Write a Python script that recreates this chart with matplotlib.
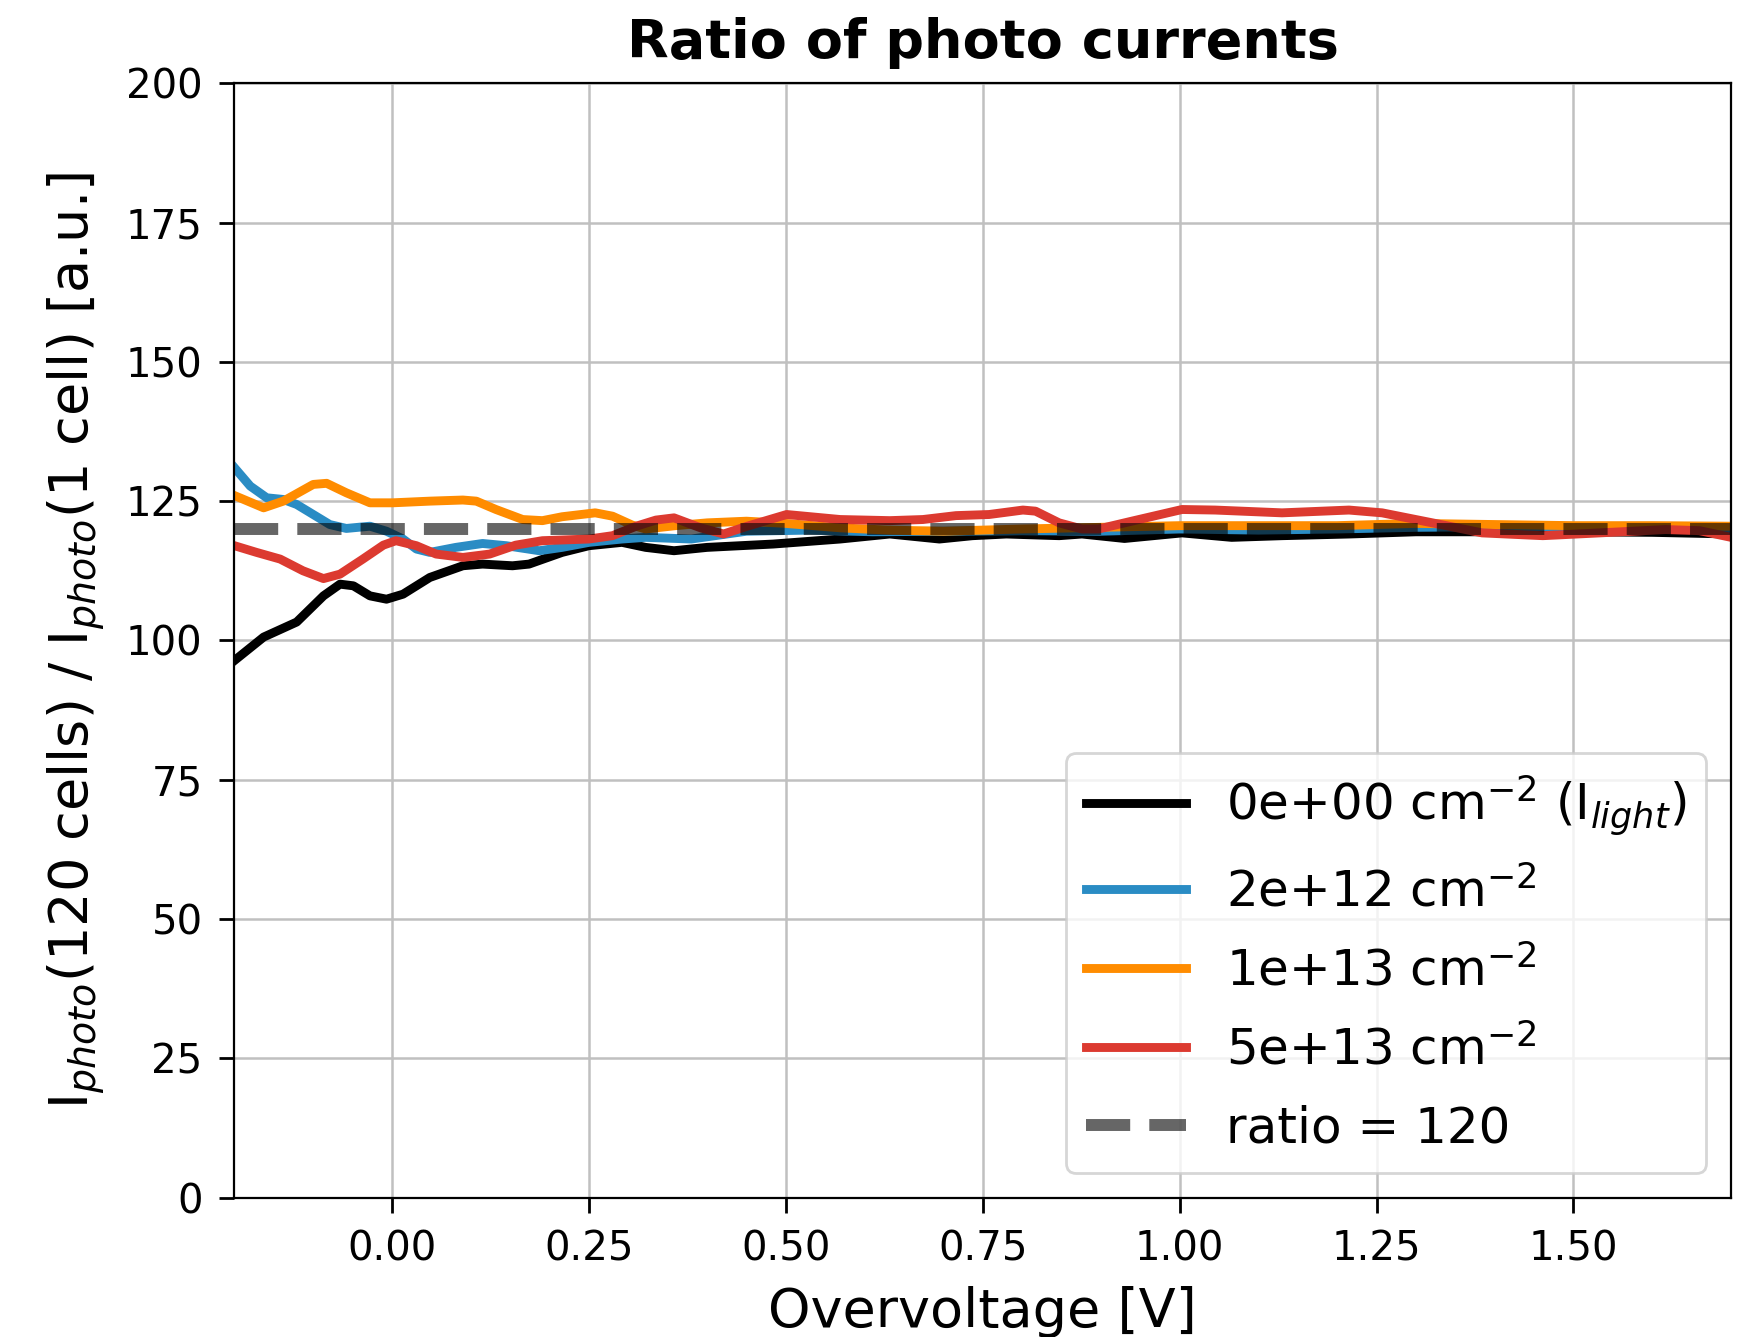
import matplotlib
matplotlib.use("Agg")
import matplotlib.pyplot as plt

# overvoltage [V] / current ratio for each fluence
v_0 = [-0.20, -0.163, -0.121, -0.087, -0.066, -0.049, -0.028, -0.007, 0.014, 0.048,
       0.090, 0.115, 0.153, 0.174, 0.216, 0.25, 0.292, 0.322, 0.358, 0.40, 0.484,
       0.569, 0.632, 0.695, 0.737, 0.78, 0.847, 0.876, 0.93, 1.003, 1.066, 1.13,
       1.215, 1.30, 1.40, 1.50, 1.60, 1.70]
r_0 = [96.4, 100.6, 103.3, 108.0, 110.1, 109.8, 108.0, 107.4, 108.3, 111.3,
       113.4, 113.7, 113.4, 113.7, 115.8, 117.0, 117.6, 116.7, 116.1, 116.7, 117.3,
       118.2, 119.1, 118.2, 118.8, 119.1, 118.8, 119.1, 118.3, 119.3, 118.5, 118.8,
       119.1, 119.5, 119.5, 119.5, 119.4, 119.1]

v_2e12 = [-0.20, -0.180, -0.159, -0.138, -0.121, -0.100, -0.079, -0.058, -0.028, -0.007,
          0.014, 0.031, 0.048, 0.081, 0.115, 0.145, 0.187, 0.216, 0.25, 0.292, 0.322,
          0.38, 0.45, 0.53, 0.61, 0.70, 0.80, 0.90, 1.00, 1.10, 1.20, 1.30, 1.40,
          1.50, 1.60, 1.70]
r_2e12 = [131.0, 127.7, 125.6, 125.3, 124.4, 122.6, 120.8, 120.1, 120.5, 119.6,
          118.2, 116.4, 115.8, 116.7, 117.4, 117.0, 116.1, 116.7, 117.6, 118.2, 118.5,
          118.2, 119.6, 119.8, 119.5, 119.6, 119.7, 119.6, 120.0, 119.8, 120.0, 120.3,
          120.4, 120.4, 120.2, 120.0]

v_1e13 = [-0.20, -0.163, -0.138, -0.100, -0.083, -0.058, -0.028, 0.001, 0.048, 0.090,
          0.107, 0.132, 0.166, 0.191, 0.216, 0.258, 0.280, 0.305, 0.322, 0.36, 0.40,
          0.45, 0.50, 0.57, 0.63, 0.70, 0.80, 0.90, 1.00, 1.10, 1.20, 1.30, 1.40,
          1.50, 1.60, 1.70]
r_1e13 = [126.0, 123.8, 125.0, 128.0, 128.2, 126.5, 124.7, 124.7, 125.0, 125.2,
          125.0, 123.5, 121.7, 121.5, 122.2, 122.9, 122.3, 120.7, 120.0, 120.6, 121.1,
          121.4, 121.0, 120.2, 119.8, 119.6, 120.0, 120.3, 120.6, 120.6, 120.6, 121.0,
          120.8, 120.6, 120.6, 120.5]

v_5e13 = [-0.20, -0.172, -0.142, -0.113, -0.087, -0.066, -0.037, -0.011, 0.005, 0.031,
          0.056, 0.090, 0.124, 0.157, 0.191, 0.25, 0.280, 0.31, 0.335, 0.358, 0.392,
          0.421, 0.451, 0.501, 0.569, 0.632, 0.674, 0.716, 0.758, 0.801, 0.817, 0.847,
          0.876, 0.897, 0.939, 1.003, 1.045, 1.13, 1.215, 1.257, 1.321, 1.384, 1.461,
          1.533, 1.617, 1.66, 1.70]
r_5e13 = [117.0, 115.8, 114.6, 112.5, 111.1, 111.9, 114.6, 117.1, 117.9, 117.0,
          115.5, 114.9, 115.5, 117.1, 117.9, 118.2, 118.8, 120.5, 121.6, 122.0, 120.2,
          119.1, 120.5, 122.6, 121.7, 121.5, 121.7, 122.4, 122.6, 123.4, 123.2, 121.1,
          120.0, 120.0, 121.4, 123.5, 123.4, 122.9, 123.4, 122.9, 121.1, 119.3, 118.8,
          119.3, 119.9, 119.7, 118.5]

labels = [r"0e+00 cm$^{-2}$ (I$_{light}$)", r"2e+12 cm$^{-2}$",
          r"1e+13 cm$^{-2}$", r"5e+13 cm$^{-2}$"]
colors = ["black", "#2a8cc4", "#ff8c00", "#dc3a30"]
nominal_ratio = 120

fig = plt.figure(figsize=(8.71, 6.685), dpi=200)
ax = fig.add_axes([0.1346, 0.1043, 0.8591, 0.8334])

series = [(v_0, r_0), (v_2e12, r_2e12), (v_1e13, r_1e13), (v_5e13, r_5e13)]
for (v, r), lab, c in zip(series, labels, colors):
    ax.plot(v, r, color=c, lw=3.2, label=lab)

ax.axhline(nominal_ratio, color="black", alpha=0.6, ls="--", lw=4.3,
           label="ratio = %d" % nominal_ratio)

ax.set_xlim(-0.2, 1.7)
ax.set_ylim(0, 200)
ax.set_xticks([0.0, 0.25, 0.5, 0.75, 1.0, 1.25, 1.5])
ax.set_yticks(range(0, 201, 25))
ax.grid(True, color="#c0c0c0", lw=0.9)
ax.tick_params(labelsize=14.5, length=5.5, width=1, pad=6)

ax.set_title("Ratio of photo currents", fontsize=19.5, fontweight="bold", pad=9)
ax.set_xlabel("Overvoltage [V]", fontsize=19.5, labelpad=6)
ax.set_ylabel(r"I$_{photo}$(120 cells) / I$_{photo}$(1 cell) [a.u.]",
              fontsize=19.5, labelpad=6.5)

ax.legend(loc="lower right", fontsize=18, labelspacing=0.6)

fig.savefig("out.png", dpi=200)
